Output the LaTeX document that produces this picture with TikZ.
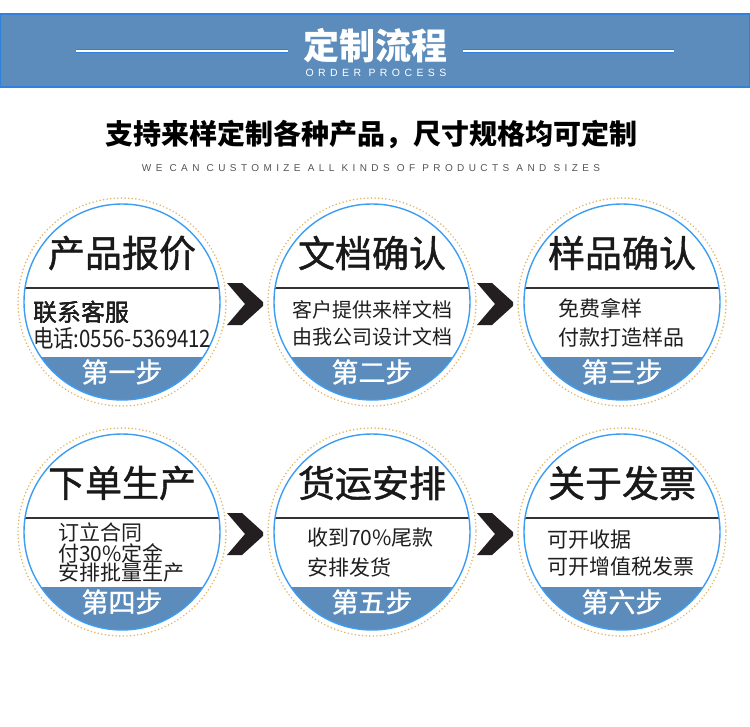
\documentclass[tikz,border=0pt]{standalone}
\usepackage{fontspec}
\setmainfont{Noto Sans CJK SC}
\newfontfamily\cjkmid[FakeBold=1.2]{Noto Sans CJK SC}
\newfontfamily\latinsp[LetterSpace=44]{Liberation Sans}
\newfontfamily\latinwide[LetterSpace=42]{Liberation Sans}
\definecolor{bandblue}{HTML}{5B8CBC}
\definecolor{edgeblue}{HTML}{2E82DC}
\definecolor{ringblue}{HTML}{3D9DF2}
\definecolor{dotgold}{HTML}{E2B560}
\definecolor{chevdark}{HTML}{231F20}
\definecolor{subgray}{HTML}{555555}
\tikzset{
  ord ring/.style={draw=ringblue,line width=1.4pt},
  ord dots/.style={draw=dotgold,line width=1.7pt,dash pattern=on 0pt off 3.6pt,line cap=round},
  ord title/.style={font=\cjkmid\fontsize{37}{40}\selectfont,text=black!90,inner sep=0pt},
  ord body/.style={anchor=west,text=black!88,inner sep=0pt},
  ord step/.style={font=\cjkmid\fontsize{27}{30}\selectfont,text=white,inner sep=0pt},
  ord rule/.style={draw=black!80,line width=1.4pt},
  ord chevron/.style={fill=chevdark}
}
\newcommand{\ordstepat}[4]{%
  \begin{scope}[shift={(#1)}]
    \fill[white] (0,0) circle[radius=104];
    \begin{scope}
      \clip (0,0) circle[radius=98];
      \fill[bandblue] (-100,55) rectangle (100,100);
      \draw[ord rule] (-100,-14) -- (100,-14);
    \end{scope}
    \draw[ord ring] (0,0) circle[radius=98];
    \draw[ord dots] (0,0) circle[radius=104];
    \node[ord title] (#2-title) at (0,-49) {#3};
    \node[ord step] (#2-step) at (0,70) {#4};
  \end{scope}%
}
\newcommand{\ordchevronat}[1]{%
  \begin{scope}[shift={(#1)}]
    \fill[ord chevron] (-18,-21) -- (-3,-21) -- (18,-2) -- (18,2)
      -- (-3,21) -- (-18,21) -- (0,0) -- cycle;
  \end{scope}%
}
\newcommand{\bodysize}[1]{\fontsize{#1}{#1}\selectfont}

\begin{document}
\begin{tikzpicture}[x=1pt,y=-1pt]
  \useasboundingbox (0,0) rectangle (750,726);
  \fill[white] (0,0) rectangle (750,726);
  % header band
  \fill[bandblue] (0.5,14) rectangle (749.5,87);
  \draw[edgeblue,line width=1.2pt] (0.5,14) rectangle (749.5,87);
  \node[font=\bfseries\fontsize{36}{38}\selectfont,text=white,inner sep=0pt] (head) at (375,46) {定制流程};
  \node[font=\latinwide\fontsize{10.5}{12}\selectfont,text=white,inner sep=0pt] (headen) at (376,73) {ORDER PROCESS};
  \coordinate (rule-la) at (76,51);
  \coordinate (rule-lb) at (288,51);
  \coordinate (rule-ra) at (463,51);
  \coordinate (rule-rb) at (674,51);
  \foreach \a/\b in {rule-la/rule-lb,rule-ra/rule-rb}{
    \draw[edgeblue,line width=3.6pt] (\a) -- (\b);
    \draw[white,line width=1.8pt] (\a) -- (\b);
  }
  % subtitle
  \node[font=\bfseries\fontsize{28}{30}\selectfont,inner sep=0pt] (sub) at (371.5,135) {支持来样定制各种产品，尺寸规格均可定制};
  \node[font=\latinsp\fontsize{10}{12}\selectfont,text=subgray,inner sep=0pt] (suben) at (371,168) {WE CAN CUSTOMIZE ALL KINDS OF PRODUCTS AND SIZES};
  % six steps
  \ordstepat{122,302}{s1}{产品报价}{第一步}
  \ordstepat{372,302}{s2}{文档确认}{第二步}
  \ordstepat{622,302}{s3}{样品确认}{第三步}
  \ordstepat{122,532}{s4}{下单生产}{第四步}
  \ordstepat{372,532}{s5}{货运安排}{第五步}
  \ordstepat{622,532}{s6}{关于发票}{第六步}
  \foreach \p in {{245,304},{495,304},{245,534},{495,534}}
    \ordchevronat{\p}
  % texts
  \node[ord body,font=\bodysize{24}] (s1a) at (33,312) {联系客服};
  \node[ord body,font=\bodysize{24}] (s1b) at (33,338) {\scalebox{0.85}[1]{电话:0556-5369412}};
  \node[ord body,font=\bodysize{20}] (s2a) at (292,310) {客户提供来样文档};
  \node[ord body,font=\bodysize{20}] (s2b) at (292,337) {由我公司设计文档};
  \node[ord body,font=\bodysize{21}] (s3a) at (558,308) {免费拿样};
  \node[ord body,font=\bodysize{21}] (s3b) at (558,338) {付款打造样品};
  \node[ord body,font=\bodysize{21}] (s4a) at (58,532) {订立合同};
  \node[ord body,font=\bodysize{21}] (s4b) at (58,553) {付30\%定金};
  \node[ord body,font=\bodysize{21}] (s4c) at (58,573) {安排批量生产};
  \node[ord body,font=\bodysize{21}] (s5a) at (307,538) {收到70\%尾款};
  \node[ord body,font=\bodysize{21}] (s5b) at (307,567) {安排发货};
  \node[ord body,font=\bodysize{21}] (s6a) at (547,540) {可开收据};
  \node[ord body,font=\bodysize{21}] (s6b) at (547,567) {可开增值税发票};
\end{tikzpicture}
\end{document}
